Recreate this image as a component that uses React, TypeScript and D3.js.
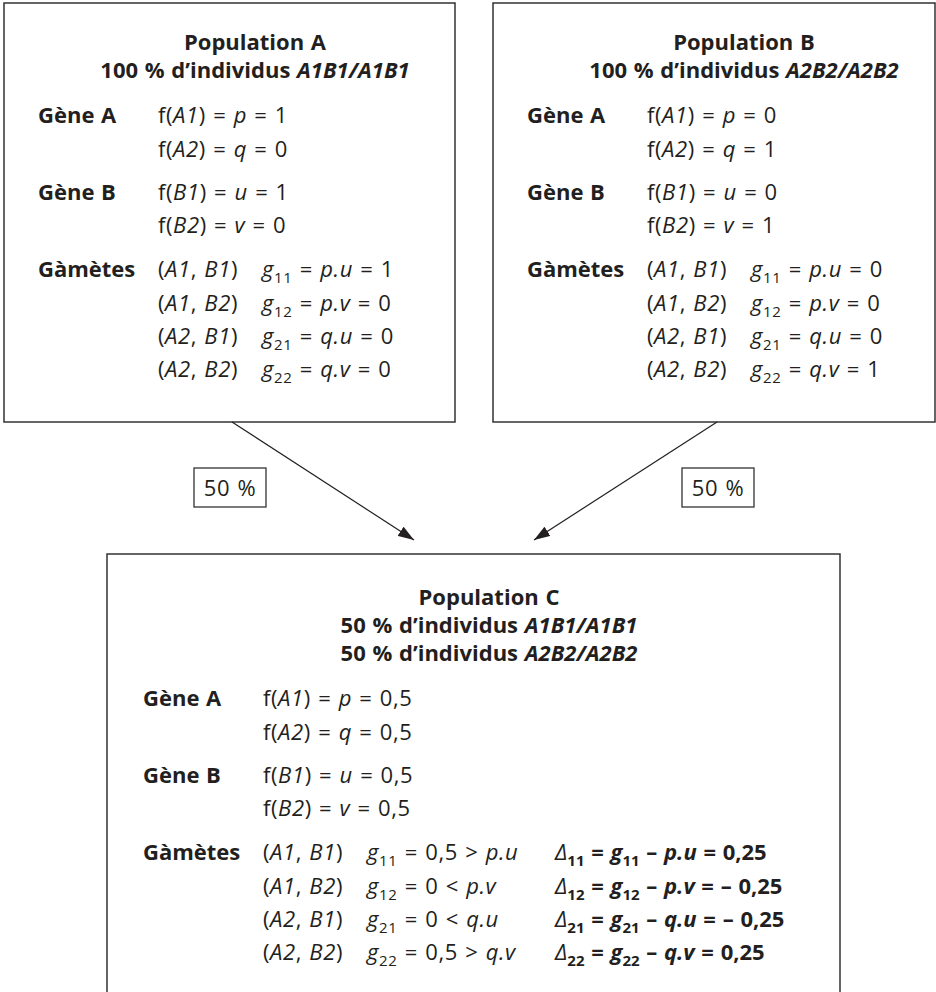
import React, { useEffect, useRef } from 'react';
import * as d3 from 'd3';

// --- data ---
const populations = ['A', 'B', 'C'];
const popShares = [[100], [100], [50, 50]];
const popGenotypes = [['A1B1/A1B1'], ['A2B2/A2B2'], ['A1B1/A1B1', 'A2B2/A2B2']];
const freqA1 = [1, 0, 0.5]; // p
const freqA2 = [0, 1, 0.5]; // q
const freqB1 = [1, 0, 0.5]; // u
const freqB2 = [0, 1, 0.5]; // v
const gametes = [['A1', 'B1'], ['A1', 'B2'], ['A2', 'B1'], ['A2', 'B2']];
const gameteIdx = ['11', '12', '21', '22'];
const gameteProducts = ['p.u', 'p.v', 'q.u', 'q.v'];
const gameteFreq = [
  [1, 0, 0, 0],
  [0, 0, 0, 1],
  [0.5, 0, 0, 0.5],
];
const deltaC = [0.25, -0.25, -0.25, 0.25];
const mixShares = [50, 50];

// --- layout ---
const W = 936;
const H = 992;
const boxes = [
  { x: 4, y: 3, w: 451, h: 419, cx: 255, label: 38, title: 50 },
  { x: 493, y: 3, w: 442, h: 419, cx: 744, label: 527, title: 50 },
  { x: 107, y: 554, w: 733, h: 470, cx: 489, label: 143, title: 605 },
];
const rowOffsets = d3.scaleOrdinal<number, number>()
  .domain([0, 1, 2, 3, 4, 5, 6, 7])
  .range([0, 34, 77, 110, 154, 188, 221, 254]);

const ink = '#231f20';
const font = '"Open Sans", "Noto Sans", sans-serif';
const fs = 22;

const fr = d3.formatLocale({
  decimal: ',',
  thousands: '\u00a0',
  grouping: [3],
  currency: ['', ''],
  minus: '\u2013 ',
});
const fmt = fr.format('~g');

type Seg = { t: string; i?: boolean; w?: string; sub?: boolean };

function drawText(
  g: d3.Selection<SVGGElement, unknown, null, undefined>,
  x: number,
  y: number,
  segs: Seg[],
  anchor = 'start',
  bold = false
) {
  const text = g.append('text')
    .attr('x', x)
    .attr('y', y)
    .attr('text-anchor', anchor)
    .attr('font-weight', bold ? 'bold' : 'normal')
    .attr('letter-spacing', bold ? 0 : 0.6)
    .attr('word-spacing', bold ? 1 : 1)
    .style('white-space', 'pre');
  let shifted = false;
  segs.forEach(s => {
    const ts = text.append('tspan').text(s.t);
    if (s.i) ts.attr('font-style', 'italic');
    if (s.w) ts.attr('font-weight', s.w);
    if (s.sub) {
      ts.attr('font-size', 15).attr('dy', shifted ? 0 : 6);
      shifted = true;
    } else if (shifted) {
      ts.attr('dy', -6);
      shifted = false;
    }
  });
}

export default function App() {
  const svgRef = useRef<SVGSVGElement>(null);

  useEffect(() => {
    if (!svgRef.current) return;
    const svg = d3.select(svgRef.current);
    svg.selectAll('*').remove();

    svg.append('defs')
      .append('marker')
      .attr('id', 'arrow')
      .attr('markerUnits', 'userSpaceOnUse')
      .attr('markerWidth', 16)
      .attr('markerHeight', 11)
      .attr('refX', 16)
      .attr('refY', 5.5)
      .attr('orient', 'auto')
      .append('path')
      .attr('d', 'M0,0 L16,5.5 L0,11 Z')
      .attr('fill', ink);

    const root = svg.append('g')
      .attr('font-family', font)
      .attr('font-size', fs)
      .attr('fill', ink);

    // boxes
    root.selectAll('rect.box')
      .data(boxes)
      .join('rect')
      .attr('class', 'box')
      .attr('x', d => d.x)
      .attr('y', d => d.y)
      .attr('width', d => d.w)
      .attr('height', d => d.h)
      .attr('fill', 'none')
      .attr('stroke', '#333')
      .attr('stroke-width', 1.5);

    populations.forEach((pop, k) => {
      const b = boxes[k];
      const g = root.append('g');

      // title
      drawText(g, b.cx, b.title, [{ t: `Population ${pop}` }], 'middle', true);
      popShares[k].forEach((s, j) => {
        drawText(g, b.cx, b.title + 28 * (j + 1), [
          { t: `${s} % d\u2019individus ` },
          { t: popGenotypes[k][j], i: true },
        ], 'middle', true);
      });

      const y0 = b.title + 28 * popShares[k].length + 45;
      const xl = b.label;
      const xf = xl + 120;
      const xg = xl + 224;
      const ry = (r: number) => y0 + rowOffsets(r);

      drawText(g, xl, ry(0), [{ t: 'Gène A' }], 'start', true);
      drawText(g, xf, ry(0), [{ t: 'f(' }, { t: 'A1', i: true }, { t: ') = ' }, { t: 'p', i: true }, { t: ` = ${fmt(freqA1[k])}` }]);
      drawText(g, xf, ry(1), [{ t: 'f(' }, { t: 'A2', i: true }, { t: ') = ' }, { t: 'q', i: true }, { t: ` = ${fmt(freqA2[k])}` }]);
      drawText(g, xl, ry(2), [{ t: 'Gène B' }], 'start', true);
      drawText(g, xf, ry(2), [{ t: 'f(' }, { t: 'B1', i: true }, { t: ') = ' }, { t: 'u', i: true }, { t: ` = ${fmt(freqB1[k])}` }]);
      drawText(g, xf, ry(3), [{ t: 'f(' }, { t: 'B2', i: true }, { t: ') = ' }, { t: 'v', i: true }, { t: ` = ${fmt(freqB2[k])}` }]);
      drawText(g, xl, ry(4), [{ t: 'Gàmètes' }], 'start', true);

      gametes.forEach(([a, bb], j) => {
        const y = ry(4 + j);
        drawText(g, xf, y, [{ t: '(' }, { t: a, i: true }, { t: ', ' }, { t: bb, i: true }, { t: ')' }]);
        const gv = gameteFreq[k][j];
        if (k < 2) {
          drawText(g, xg, y, [
            { t: 'g', i: true }, { t: gameteIdx[j], sub: true },
            { t: ' = ' }, { t: gameteProducts[j], i: true }, { t: ` = ${fmt(gv)}` },
          ]);
        } else {
          const pa = a === 'A1' ? freqA1[k] : freqA2[k];
          const pb = bb === 'B1' ? freqB1[k] : freqB2[k];
          const cmp = gv > pa * pb ? '>' : '<';
          drawText(g, xg, y, [
            { t: 'g', i: true }, { t: gameteIdx[j], sub: true },
            { t: ` = ${fmt(gv)} ${cmp} ` }, { t: gameteProducts[j], i: true },
          ]);
          drawText(g, b.x + 448, y, [
            { t: '\u0394', i: true, w: 'normal' }, { t: gameteIdx[j], sub: true },
            { t: ' = ' }, { t: 'g', i: true }, { t: gameteIdx[j], sub: true },
            { t: ' \u2013 ' }, { t: gameteProducts[j], i: true },
            { t: ` = ${fmt(deltaC[j])}` },
          ], 'start', true);
        }
      });
    });

    // arrows from A and B to C
    const target = boxes[2];
    const arrows = [
      { x1: boxes[0].x + 228, y1: boxes[0].y + boxes[0].h, x2: target.x + 307, y2: target.y - 14 },
      { x1: boxes[1].x + 224, y1: boxes[1].y + boxes[1].h, x2: target.x + 427, y2: target.y - 14 },
    ];
    root.selectAll('line.arrow')
      .data(arrows)
      .join('line')
      .attr('class', 'arrow')
      .attr('x1', d => d.x1)
      .attr('y1', d => d.y1)
      .attr('x2', d => d.x2)
      .attr('y2', d => d.y2)
      .attr('stroke', ink)
      .attr('stroke-width', 1.2)
      .attr('marker-end', 'url(#arrow)');

    // share labels
    const labelX = [194, 682];
    mixShares.forEach((s, j) => {
      root.append('rect')
        .attr('x', labelX[j])
        .attr('y', 468)
        .attr('width', 72)
        .attr('height', 39)
        .attr('fill', 'none')
        .attr('stroke', '#333')
        .attr('stroke-width', 1.3);
      const g = root.append('g');
      drawText(g, labelX[j] + 36, 496, [{ t: `${s} %` }], 'middle');
    });
  }, []);

  return (
    <svg
      ref={svgRef}
      width={W}
      height={H}
      style={{ position: 'absolute', left: 0, top: 0, background: '#fff', display: 'block' }}
    />
  );
}
